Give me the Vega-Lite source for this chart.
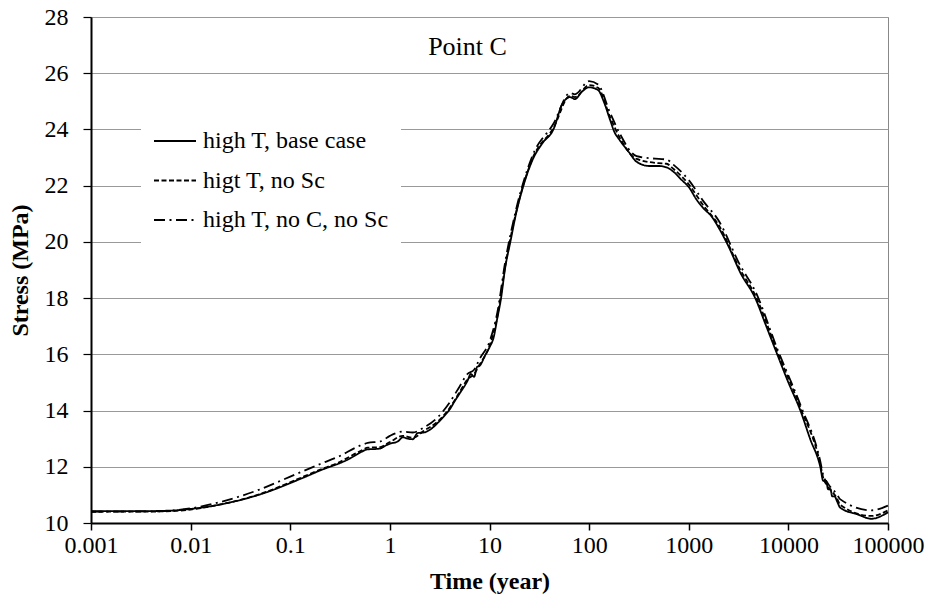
{
  "$schema": "https://vega.github.io/schema/vega-lite/v6.json",
  "width": 797,
  "height": 506,
  "autosize": {"type": "none"},
  "padding": {"left": 91, "top": 17, "right": 39, "bottom": 75},
  "background": "white",
  "title": {"text": "Point C", "anchor": "middle", "dx": -22, "offset": -55, "fontSize": 26, "font": "'Liberation Serif', 'Times New Roman', Times, serif", "fontWeight": "normal", "color": "black", "frame": "group"},
  "config": {
    "view": {"stroke": "#888888", "strokeWidth": 1},
    "font": "'Liberation Serif', 'Times New Roman', Times, serif"
  },
  "datasets": {
    "curves": [
      {"t": 0.001, "s": 10.42, "series": "high T, base case"},
      {"t": 0.002, "s": 10.42, "series": "high T, base case"},
      {"t": 0.003, "s": 10.42, "series": "high T, base case"},
      {"t": 0.005, "s": 10.43, "series": "high T, base case"},
      {"t": 0.007, "s": 10.45, "series": "high T, base case"},
      {"t": 0.01, "s": 10.5, "series": "high T, base case"},
      {"t": 0.015, "s": 10.58, "series": "high T, base case"},
      {"t": 0.02, "s": 10.66, "series": "high T, base case"},
      {"t": 0.03, "s": 10.8, "series": "high T, base case"},
      {"t": 0.05, "s": 11.02, "series": "high T, base case"},
      {"t": 0.07, "s": 11.2, "series": "high T, base case"},
      {"t": 0.1, "s": 11.42, "series": "high T, base case"},
      {"t": 0.15, "s": 11.68, "series": "high T, base case"},
      {"t": 0.2, "s": 11.87, "series": "high T, base case"},
      {"t": 0.25, "s": 12.0, "series": "high T, base case"},
      {"t": 0.3, "s": 12.1, "series": "high T, base case"},
      {"t": 0.4, "s": 12.3, "series": "high T, base case"},
      {"t": 0.5, "s": 12.5, "series": "high T, base case"},
      {"t": 0.6, "s": 12.62, "series": "high T, base case"},
      {"t": 0.7, "s": 12.63, "series": "high T, base case"},
      {"t": 0.8, "s": 12.65, "series": "high T, base case"},
      {"t": 0.9, "s": 12.75, "series": "high T, base case"},
      {"t": 1.0, "s": 12.82, "series": "high T, base case"},
      {"t": 1.2, "s": 12.9, "series": "high T, base case"},
      {"t": 1.35, "s": 13.05, "series": "high T, base case"},
      {"t": 1.5, "s": 13.0, "series": "high T, base case"},
      {"t": 1.7, "s": 12.98, "series": "high T, base case"},
      {"t": 1.9, "s": 13.2, "series": "high T, base case"},
      {"t": 2.2, "s": 13.22, "series": "high T, base case"},
      {"t": 2.6, "s": 13.35, "series": "high T, base case"},
      {"t": 3, "s": 13.55, "series": "high T, base case"},
      {"t": 3.5, "s": 13.8, "series": "high T, base case"},
      {"t": 4, "s": 14.05, "series": "high T, base case"},
      {"t": 4.5, "s": 14.35, "series": "high T, base case"},
      {"t": 5, "s": 14.6, "series": "high T, base case"},
      {"t": 6, "s": 15.05, "series": "high T, base case"},
      {"t": 6.5, "s": 15.3, "series": "high T, base case"},
      {"t": 7, "s": 15.2, "series": "high T, base case"},
      {"t": 7.5, "s": 15.55, "series": "high T, base case"},
      {"t": 8, "s": 15.6, "series": "high T, base case"},
      {"t": 9, "s": 15.95, "series": "high T, base case"},
      {"t": 10, "s": 16.25, "series": "high T, base case"},
      {"t": 11, "s": 16.6, "series": "high T, base case"},
      {"t": 12, "s": 17.3, "series": "high T, base case"},
      {"t": 13, "s": 17.95, "series": "high T, base case"},
      {"t": 14.4, "s": 19.1, "series": "high T, base case"},
      {"t": 16.2, "s": 20.0, "series": "high T, base case"},
      {"t": 18.2, "s": 20.9, "series": "high T, base case"},
      {"t": 21.9, "s": 22.0, "series": "high T, base case"},
      {"t": 26.9, "s": 22.9, "series": "high T, base case"},
      {"t": 33.8, "s": 23.5, "series": "high T, base case"},
      {"t": 43.8, "s": 24.0, "series": "high T, base case"},
      {"t": 53.7, "s": 24.9, "series": "high T, base case"},
      {"t": 64.5, "s": 25.15, "series": "high T, base case"},
      {"t": 72, "s": 25.08, "series": "high T, base case"},
      {"t": 85, "s": 25.35, "series": "high T, base case"},
      {"t": 100, "s": 25.5, "series": "high T, base case"},
      {"t": 123, "s": 25.4, "series": "high T, base case"},
      {"t": 140, "s": 25.0, "series": "high T, base case"},
      {"t": 162, "s": 24.35, "series": "high T, base case"},
      {"t": 180, "s": 23.9, "series": "high T, base case"},
      {"t": 200, "s": 23.65, "series": "high T, base case"},
      {"t": 250, "s": 23.2, "series": "high T, base case"},
      {"t": 300, "s": 22.85, "series": "high T, base case"},
      {"t": 400, "s": 22.7, "series": "high T, base case"},
      {"t": 500, "s": 22.7, "series": "high T, base case"},
      {"t": 600, "s": 22.65, "series": "high T, base case"},
      {"t": 700, "s": 22.5, "series": "high T, base case"},
      {"t": 850, "s": 22.2, "series": "high T, base case"},
      {"t": 1000, "s": 21.95, "series": "high T, base case"},
      {"t": 1200, "s": 21.5, "series": "high T, base case"},
      {"t": 1400, "s": 21.2, "series": "high T, base case"},
      {"t": 1700, "s": 20.9, "series": "high T, base case"},
      {"t": 2000, "s": 20.5, "series": "high T, base case"},
      {"t": 2500, "s": 19.85, "series": "high T, base case"},
      {"t": 3300, "s": 18.9, "series": "high T, base case"},
      {"t": 4650, "s": 18.0, "series": "high T, base case"},
      {"t": 6000, "s": 17.0, "series": "high T, base case"},
      {"t": 7730, "s": 16.0, "series": "high T, base case"},
      {"t": 10000, "s": 15.0, "series": "high T, base case"},
      {"t": 13200, "s": 14.0, "series": "high T, base case"},
      {"t": 16500, "s": 13.0, "series": "high T, base case"},
      {"t": 20900, "s": 12.0, "series": "high T, base case"},
      {"t": 22400, "s": 11.5, "series": "high T, base case"},
      {"t": 24000, "s": 11.5, "series": "high T, base case"},
      {"t": 25000, "s": 11.2, "series": "high T, base case"},
      {"t": 26500, "s": 11.2, "series": "high T, base case"},
      {"t": 27500, "s": 10.95, "series": "high T, base case"},
      {"t": 29000, "s": 10.95, "series": "high T, base case"},
      {"t": 31000, "s": 10.75, "series": "high T, base case"},
      {"t": 33000, "s": 10.55, "series": "high T, base case"},
      {"t": 50000, "s": 10.3, "series": "high T, base case"},
      {"t": 68000, "s": 10.15, "series": "high T, base case"},
      {"t": 100000, "s": 10.38, "series": "high T, base case"},

      {"t": 0.001, "s": 10.4, "series": "higt T, no Sc"},
      {"t": 0.005, "s": 10.41, "series": "higt T, no Sc"},
      {"t": 0.01, "s": 10.48, "series": "higt T, no Sc"},
      {"t": 0.02, "s": 10.66, "series": "higt T, no Sc"},
      {"t": 0.05, "s": 11.03, "series": "higt T, no Sc"},
      {"t": 0.1, "s": 11.45, "series": "higt T, no Sc"},
      {"t": 0.2, "s": 11.9, "series": "higt T, no Sc"},
      {"t": 0.3, "s": 12.14, "series": "higt T, no Sc"},
      {"t": 0.5, "s": 12.55, "series": "higt T, no Sc"},
      {"t": 0.6, "s": 12.68, "series": "higt T, no Sc"},
      {"t": 0.8, "s": 12.7, "series": "higt T, no Sc"},
      {"t": 1, "s": 12.88, "series": "higt T, no Sc"},
      {"t": 1.35, "s": 13.1, "series": "higt T, no Sc"},
      {"t": 1.7, "s": 13.03, "series": "higt T, no Sc"},
      {"t": 2.2, "s": 13.28, "series": "higt T, no Sc"},
      {"t": 3, "s": 13.6, "series": "higt T, no Sc"},
      {"t": 4, "s": 14.1, "series": "higt T, no Sc"},
      {"t": 5, "s": 14.65, "series": "higt T, no Sc"},
      {"t": 6, "s": 15.1, "series": "higt T, no Sc"},
      {"t": 7, "s": 15.3, "series": "higt T, no Sc"},
      {"t": 8, "s": 15.65, "series": "higt T, no Sc"},
      {"t": 10, "s": 16.3, "series": "higt T, no Sc"},
      {"t": 12, "s": 17.35, "series": "higt T, no Sc"},
      {"t": 14.4, "s": 19.15, "series": "higt T, no Sc"},
      {"t": 18.2, "s": 20.95, "series": "higt T, no Sc"},
      {"t": 26.9, "s": 22.95, "series": "higt T, no Sc"},
      {"t": 43.8, "s": 24.05, "series": "higt T, no Sc"},
      {"t": 64.5, "s": 25.2, "series": "higt T, no Sc"},
      {"t": 72, "s": 25.15, "series": "higt T, no Sc"},
      {"t": 100, "s": 25.58, "series": "higt T, no Sc"},
      {"t": 123, "s": 25.48, "series": "higt T, no Sc"},
      {"t": 162, "s": 24.45, "series": "higt T, no Sc"},
      {"t": 200, "s": 23.75, "series": "higt T, no Sc"},
      {"t": 300, "s": 22.95, "series": "higt T, no Sc"},
      {"t": 500, "s": 22.8, "series": "higt T, no Sc"},
      {"t": 600, "s": 22.78, "series": "higt T, no Sc"},
      {"t": 700, "s": 22.6, "series": "higt T, no Sc"},
      {"t": 1000, "s": 22.05, "series": "higt T, no Sc"},
      {"t": 1400, "s": 21.3, "series": "higt T, no Sc"},
      {"t": 2000, "s": 20.6, "series": "higt T, no Sc"},
      {"t": 3300, "s": 19.0, "series": "higt T, no Sc"},
      {"t": 4650, "s": 18.1, "series": "higt T, no Sc"},
      {"t": 7730, "s": 16.1, "series": "higt T, no Sc"},
      {"t": 13200, "s": 14.1, "series": "higt T, no Sc"},
      {"t": 20900, "s": 12.1, "series": "higt T, no Sc"},
      {"t": 22400, "s": 11.6, "series": "higt T, no Sc"},
      {"t": 25000, "s": 11.3, "series": "higt T, no Sc"},
      {"t": 31000, "s": 10.85, "series": "higt T, no Sc"},
      {"t": 33000, "s": 10.65, "series": "higt T, no Sc"},
      {"t": 68000, "s": 10.25, "series": "higt T, no Sc"},
      {"t": 100000, "s": 10.45, "series": "higt T, no Sc"},

      {"t": 0.001, "s": 10.4, "series": "high T, no C, no Sc"},
      {"t": 0.005, "s": 10.42, "series": "high T, no C, no Sc"},
      {"t": 0.01, "s": 10.52, "series": "high T, no C, no Sc"},
      {"t": 0.02, "s": 10.75, "series": "high T, no C, no Sc"},
      {"t": 0.05, "s": 11.2, "series": "high T, no C, no Sc"},
      {"t": 0.1, "s": 11.65, "series": "high T, no C, no Sc"},
      {"t": 0.2, "s": 12.1, "series": "high T, no C, no Sc"},
      {"t": 0.3, "s": 12.35, "series": "high T, no C, no Sc"},
      {"t": 0.5, "s": 12.75, "series": "high T, no C, no Sc"},
      {"t": 0.6, "s": 12.85, "series": "high T, no C, no Sc"},
      {"t": 0.8, "s": 12.9, "series": "high T, no C, no Sc"},
      {"t": 1, "s": 13.1, "series": "high T, no C, no Sc"},
      {"t": 1.35, "s": 13.25, "series": "high T, no C, no Sc"},
      {"t": 1.7, "s": 13.22, "series": "high T, no C, no Sc"},
      {"t": 2.2, "s": 13.4, "series": "high T, no C, no Sc"},
      {"t": 3, "s": 13.75, "series": "high T, no C, no Sc"},
      {"t": 4, "s": 14.3, "series": "high T, no C, no Sc"},
      {"t": 5, "s": 14.85, "series": "high T, no C, no Sc"},
      {"t": 6, "s": 15.3, "series": "high T, no C, no Sc"},
      {"t": 7, "s": 15.45, "series": "high T, no C, no Sc"},
      {"t": 8, "s": 15.85, "series": "high T, no C, no Sc"},
      {"t": 10, "s": 16.45, "series": "high T, no C, no Sc"},
      {"t": 12, "s": 17.5, "series": "high T, no C, no Sc"},
      {"t": 14.4, "s": 19.3, "series": "high T, no C, no Sc"},
      {"t": 18.2, "s": 21.05, "series": "high T, no C, no Sc"},
      {"t": 26.9, "s": 23.05, "series": "high T, no C, no Sc"},
      {"t": 43.8, "s": 24.2, "series": "high T, no C, no Sc"},
      {"t": 64.5, "s": 25.3, "series": "high T, no C, no Sc"},
      {"t": 72, "s": 25.25, "series": "high T, no C, no Sc"},
      {"t": 100, "s": 25.72, "series": "high T, no C, no Sc"},
      {"t": 123, "s": 25.6, "series": "high T, no C, no Sc"},
      {"t": 162, "s": 24.6, "series": "high T, no C, no Sc"},
      {"t": 200, "s": 23.9, "series": "high T, no C, no Sc"},
      {"t": 300, "s": 23.05, "series": "high T, no C, no Sc"},
      {"t": 500, "s": 22.95, "series": "high T, no C, no Sc"},
      {"t": 600, "s": 22.93, "series": "high T, no C, no Sc"},
      {"t": 700, "s": 22.75, "series": "high T, no C, no Sc"},
      {"t": 1000, "s": 22.2, "series": "high T, no C, no Sc"},
      {"t": 1400, "s": 21.45, "series": "high T, no C, no Sc"},
      {"t": 2000, "s": 20.75, "series": "high T, no C, no Sc"},
      {"t": 3300, "s": 19.15, "series": "high T, no C, no Sc"},
      {"t": 4650, "s": 18.25, "series": "high T, no C, no Sc"},
      {"t": 7730, "s": 16.2, "series": "high T, no C, no Sc"},
      {"t": 13200, "s": 14.2, "series": "high T, no C, no Sc"},
      {"t": 20900, "s": 12.2, "series": "high T, no C, no Sc"},
      {"t": 22400, "s": 11.7, "series": "high T, no C, no Sc"},
      {"t": 25000, "s": 11.4, "series": "high T, no C, no Sc"},
      {"t": 31000, "s": 11.0, "series": "high T, no C, no Sc"},
      {"t": 33000, "s": 10.85, "series": "high T, no C, no Sc"},
      {"t": 68000, "s": 10.45, "series": "high T, no C, no Sc"},
      {"t": 100000, "s": 10.62, "series": "high T, no C, no Sc"}
    ]
  },
  "data": {"name": "curves"},
  "mark": {"type": "line", "color": "black", "strokeWidth": 1.8, "interpolate": "monotone"},
  "encoding": {
    "x": {
      "field": "t", "type": "quantitative",
      "scale": {"type": "log", "domain": [0.001, 100000], "nice": false},
      "axis": {
        "title": "Time (year)", "titleFont": "'Liberation Serif', 'Times New Roman', Times, serif", "titleFontSize": 24, "titleFontWeight": "bold", "titleColor": "black", "titlePadding": 12,
        "values": [0.001, 0.01, 0.1, 1, 10, 100, 1000, 10000, 100000],
        "labelExpr": "datum.value < 1 ? format(datum.value, '.3~f') : format(datum.value, 'd')",
        "labelFont": "'Liberation Serif', 'Times New Roman', Times, serif", "labelFontSize": 24, "labelColor": "black", "labelPadding": 3, "labelFlush": false,
        "grid": false, "domainColor": "black", "domainWidth": 2, "tickColor": "black", "tickWidth": 1.5, "tickSize": 7
      }
    },
    "y": {
      "field": "s", "type": "quantitative",
      "scale": {"domain": [10, 28], "nice": false, "zero": false},
      "axis": {
        "title": "Stress (MPa)", "titleFont": "'Liberation Serif', 'Times New Roman', Times, serif", "titleFontSize": 24, "titleFontWeight": "bold", "titleColor": "black", "titlePadding": 12,
        "values": [10, 12, 14, 16, 18, 20, 22, 24, 26, 28],
        "labelFont": "'Liberation Serif', 'Times New Roman', Times, serif", "labelFontSize": 24, "labelColor": "black", "labelPadding": 15,
        "grid": true, "gridColor": "#999999", "gridWidth": 1,
        "domainColor": "black", "domainWidth": 2, "ticks": true, "tickColor": "black", "tickWidth": 1.2, "tickSize": 8
      }
    },
    "strokeDash": {
      "field": "series", "type": "nominal",
      "scale": {"domain": ["high T, base case", "higt T, no Sc", "high T, no C, no Sc"], "range": [[1, 0], [5, 2.5], [11, 4.5, 2, 4.5]]},
      "legend": {
        "title": null, "orient": "none", "legendX": 50, "legendY": 90,
        "fillColor": "white", "padding": 12,
        "symbolType": "stroke", "symbolSize": 1764, "symbolStrokeColor": "black", "symbolStrokeWidth": 1.8,
        "labelFont": "'Liberation Serif', 'Times New Roman', Times, serif", "labelFontSize": 24, "labelColor": "black", "labelOffset": 6, "rowPadding": 5.5,
        "labelLimit": 400
      }
    },
    "order": {"field": "t", "type": "quantitative"}
  }
}
